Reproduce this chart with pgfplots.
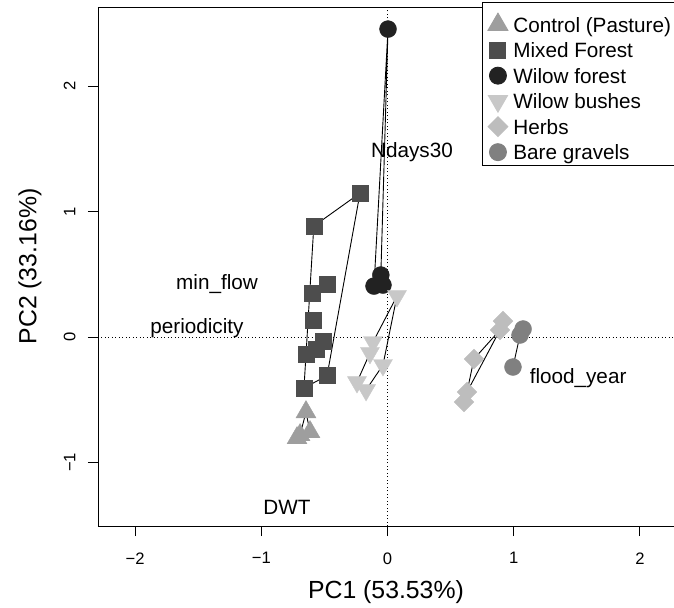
\documentclass[border=0pt]{standalone}
\usepackage{pgfplots}
\pgfplotsset{compat=1.18}
\usepackage{fontspec}
\setmainfont{Liberation Sans}
\definecolor{cctrl}{HTML}{9E9E9E}
\definecolor{cmixed}{HTML}{4D4D4D}
\definecolor{cwf}{HTML}{222222}
\definecolor{cwb}{HTML}{C8C8C8}
\definecolor{cherb}{HTML}{BDBDBD}
\definecolor{cbare}{HTML}{808080}
\begin{document}
\begin{tikzpicture}
\begin{axis}[
  scale only axis, width=576bp, height=519bp,
  xmin=-2.294, xmax=2.27, ymin=-1.506, ymax=2.63,
  axis x line*=bottom, axis y line*=left,
  axis line style={line width=0.9bp, -},
  xtick={-2,-1,0,1,2}, xticklabels={−2,−1,0,1,2},
  ytick={-1,0,1,2}, yticklabels={−1,0,1,2},
  tick align=outside, major tick length=10bp,
  tick style={black, line width=0.9bp},
  ticklabel style={font=\fontsize{16.6bp}{20bp}\selectfont},
  xticklabel shift=13bp,
  yticklabel style={rotate=90, anchor=south},
  yticklabel shift=9bp,
  xlabel={PC1 (53.53\%)}, ylabel={PC2 (33.16\%)},
  label style={font=\fontsize{24.8bp}{28bp}\selectfont},
  xlabel style={at={(axis description cs:0.5,-0.1266)}, anchor=center},
  ylabel style={at={(axis description cs:-0.118,0.5)}, anchor=center},
  legend image code/.code={\path (-10bp,0bp) (15bp,0bp); \draw[#1] plot coordinates {(0bp,7.4bp)};},
  legend style={at={(axis cs:0.749,2.669)}, anchor=north west, draw=black, line width=0.9bp, fill=white,
    font=\fontsize{20.7bp}{24bp}\selectfont, inner xsep=5bp, inner ysep=0.5bp,
    row sep=0.5bp, cells={anchor=base west}, nodes={inner sep=0pt, text height=20bp, text depth=5bp}},
]
\coordinate (LL) at (rel axis cs:0,0);
\coordinate (UR) at (rel axis cs:1,1);
\draw[line width=0.9bp] (rel axis cs:0,1) -- (rel axis cs:1,1);
\draw[line width=0.8bp, dash pattern=on 1bp off 2.5bp] (axis cs:0,-1.506) -- (axis cs:0,2.63);
\draw[line width=0.8bp, dash pattern=on 1bp off 2.5bp] (axis cs:-2.294,0) -- (axis cs:2.27,0);

% legend images
\addlegendimage{only marks, mark=triangle*, mark size=11.5bp, mark options={fill=cctrl, draw=cctrl}}
\addlegendentry[text height=29bp]{Control (Pasture)}
\addlegendimage{only marks, mark=square*, mark size=8bp, mark options={fill=cmixed, draw=cmixed}}
\addlegendentry{Mixed Forest}
\addlegendimage{only marks, mark=*, mark size=8.5bp, mark options={fill=cwf, draw=cwf}}
\addlegendentry{Wilow forest}
\addlegendimage{only marks, mark=triangle*, mark size=11bp, mark options={fill=cwb, draw=cwb, rotate=180}}
\addlegendentry{Wilow bushes}
\addlegendimage{only marks, mark=square*, mark size=7bp, mark options={fill=cherb, draw=cherb, rotate=45}}
\addlegendentry{Herbs}
\addlegendimage{only marks, mark=*, mark size=8.5bp, mark options={fill=cbare, draw=cbare}}
\addlegendentry{Bare gravels}

% points
\addplot[forget plot, only marks, mark=triangle*, mark size=11.5bp, mark options={fill=cctrl, draw=cctrl}]
  coordinates {(-0.646,-0.598) (-0.693,-0.781) (-0.614,-0.757) (-0.717,-0.805)};
\addplot[forget plot, only marks, mark=square*, mark size=8bp, mark options={fill=cmixed, draw=cmixed}]
  coordinates {(-0.218,1.147) (-0.584,0.884) (-0.474,0.422) (-0.593,0.353) (-0.585,0.135)
               (-0.509,-0.037) (-0.567,-0.100) (-0.646,-0.135) (-0.479,-0.308) (-0.662,-0.406)};
\addplot[forget plot, only marks, mark=*, mark size=8.5bp, mark options={fill=cwf, draw=cwf}]
  coordinates {(0.004,2.454) (-0.053,0.494) (-0.107,0.406) (-0.036,0.414)};
\addplot[forget plot, only marks, mark=triangle*, mark size=11bp, mark options={fill=cwb, draw=cwb, rotate=180}]
  coordinates {(0.075,0.327) (-0.115,-0.040) (-0.139,-0.127) (-0.036,-0.223) (-0.242,-0.359) (-0.170,-0.422)};
\addplot[forget plot, only marks, mark=square*, mark size=7bp, mark options={fill=cherb, draw=cherb, rotate=45}]
  coordinates {(0.915,0.127) (0.891,0.056) (0.685,-0.175) (0.630,-0.438) (0.606,-0.518)};
\addplot[forget plot, only marks, mark=*, mark size=8.5bp, mark options={fill=cbare, draw=cbare}]
  coordinates {(1.074,0.064) (1.050,0.016) (0.994,-0.239)};

% connecting lines
\addplot[forget plot, black, line width=0.9bp, no marks] coordinates {(-0.693,-0.781) (-0.646,-0.598) (-0.614,-0.757)};
\addplot[forget plot, black, line width=0.9bp, no marks] coordinates {(-0.218,1.147) (-0.584,0.884) (-0.662,-0.406) (-0.479,-0.308) (-0.218,1.147)};
\addplot[forget plot, black, line width=0.9bp, no marks] coordinates {(-0.053,0.494) (0.004,2.454) (-0.107,0.406)};
\addplot[forget plot, black, line width=0.9bp, no marks] coordinates {(-0.115,-0.040) (0.075,0.327) (-0.036,-0.223) (-0.170,-0.422)};
\addplot[forget plot, black, line width=0.9bp, no marks] coordinates {(-0.139,-0.127) (-0.242,-0.359)};
\addplot[forget plot, black, line width=0.9bp, no marks] coordinates {(0.891,0.056) (0.685,-0.175) (0.630,-0.438) (0.891,0.056)};
\addplot[forget plot, black, line width=0.9bp, no marks] coordinates {(1.050,0.016) (0.994,-0.239)};

% variable labels
\begin{scope}[every node/.style={font=\fontsize{20.7bp}{24bp}\selectfont}]
\node at (axis cs:0.194,1.474) {Ndays30};
\node at (axis cs:-1.351,0.422) {min\_flow};
\node at (axis cs:-1.510,0.072) {periodicity};
\node at (axis cs:1.510,-0.327) {flood\_year};
\node at (axis cs:-0.796,-1.355) {DWT};
\end{scope}
\end{axis}
\pgfresetboundingbox
\path ([xshift=-98bp,yshift=-82bp]LL) rectangle ([yshift=7bp]UR);
\end{tikzpicture}
\end{document}
